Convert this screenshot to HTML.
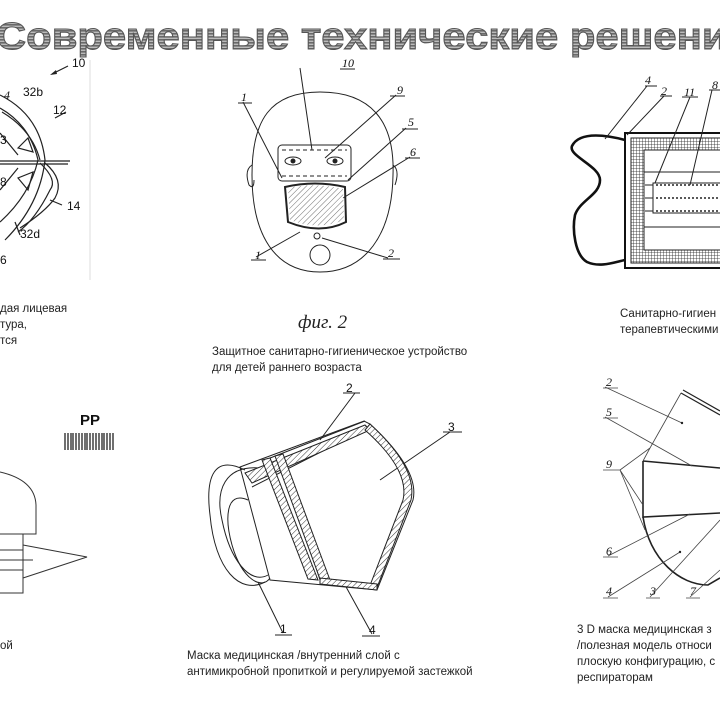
<!DOCTYPE html>
<html><head><meta charset="utf-8"><style>
html,body{margin:0;padding:0;background:#fff;}
svg{display:block}
.t{font-family:"Liberation Sans",sans-serif;font-size:11.5px;fill:#222}
.n{font-family:"Liberation Sans",sans-serif;font-size:12px;fill:#111}
.h{font-family:"Liberation Serif",serif;font-style:italic;font-size:12px;fill:#111}
</style></head><body>
<svg width="720" height="720" viewBox="0 0 720 720" xmlns="http://www.w3.org/2000/svg">
<defs>
<pattern id="grid" width="3" height="3" patternUnits="userSpaceOnUse"><rect width="3" height="3" fill="#fff"/><path d="M0 0H3M0 0V3" stroke="#222" stroke-width="0.8"/></pattern>
<pattern id="hatch" width="4" height="4" patternUnits="userSpaceOnUse" patternTransform="rotate(45)"><rect width="4" height="4" fill="#fff"/><path d="M0 0V4" stroke="#333" stroke-width="1"/></pattern>
<pattern id="stripes" width="4" height="3" patternUnits="userSpaceOnUse"><rect width="4" height="3" fill="#bbb"/><rect width="4" height="1.6" fill="#6a6a6a"/></pattern>
</defs>
<!-- title -->
<text x="-4" y="49" font-family="Liberation Sans,sans-serif" font-weight="bold" font-size="38" fill="url(#stripes)" stroke="#555" stroke-width="1" textLength="756" lengthAdjust="spacingAndGlyphs">Современные технические решения</text>

<!-- fig1 top-left -->
<line x1="90" y1="60" x2="90" y2="280" stroke="#ddd"/>
<g fill="none" stroke="#222" stroke-width="1.2">
<path d="M0 95 Q40 115 45 160 Q40 205 5 240"/>
<path d="M0 108 Q30 125 38 160 Q30 195 0 222"/>
<path d="M2 112 Q32 130 40 160"/>
<path d="M40 163 Q58 180 50 190 Q35 220 18 232"/>
<path d="M45 163 Q65 180 55 198 Q45 212 20 228"/>
<line x1="0" y1="161" x2="70" y2="161"/><line x1="0" y1="164" x2="68" y2="164"/>
<path d="M18 148 L28 138 L33 152 Z M18 178 L28 190 L33 172 Z"/>
<path d="M0 133 L18 155 M0 190 L18 168"/>
<path d="M52 74 L68 66 M55 118 L66 112 M50 200 L62 205 M15 222 L20 235"/>
</g>
<path d="M50 75 l6 -5 l1 4z" fill="#222"/>
<text class="n" x="72" y="67">10</text><text class="h" x="4" y="99" font-size="14">4</text>
<text class="n" x="23" y="96">32b</text><text class="n" x="53" y="114">12</text>
<text class="n" x="0" y="144">3</text><text class="n" x="0" y="186">8</text>
<text class="n" x="67" y="210">14</text><text class="n" x="20" y="238">32d</text>
<text class="n" x="0" y="264">6</text>
<text class="t" x="0" y="312">дая лицевая</text><text class="t" x="0" y="328">тура,</text><text class="t" x="0" y="344">тся</text>

<!-- fig2 face -->
<g fill="none" stroke="#222" stroke-width="1">
<path d="M320 92 C370 92 395 120 393 175 C392 235 365 272 320 272 C275 272 252 235 252 175 C252 120 270 92 320 92Z"/>
<path d="M252 165 q-8 5 -3 20 q5 5 5 -5 M393 165 q7 5 2 20"/>
<rect x="278" y="145" width="73" height="36" rx="4"/>
<path d="M282 150 H347 M282 176 H347" stroke-dasharray="4 3"/>
<path d="M285 187 Q315 180 345 187 L346 222 Q320 235 288 222 Z" stroke-width="2"/>
<circle cx="320" cy="255" r="10"/><circle cx="317" cy="236" r="3"/>
<path d="M300 68 L312 150 M396 95 L325 158 M406 128 L348 180 M410 157 L343 198 M243 102 L282 178 M388 258 L322 238 M256 257 L300 232"/>
<path d="M340 69 H355 M390 96 H405 M402 129 H418 M405 158 H420 M238 103 H252 M383 259 H400 M251 260 H266"/>
</g>
<path d="M288 188 Q315 182 343 189 L344 220 Q318 231 290 220 Z" fill="url(#hatch)" opacity="0.7"/>
<ellipse cx="293" cy="161" rx="8" ry="4" fill="none" stroke="#222"/><circle cx="293" cy="161" r="2.5" fill="#222"/>
<ellipse cx="335" cy="161" rx="8" ry="4" fill="none" stroke="#222"/><circle cx="335" cy="161" r="2.5" fill="#222"/>
<text class="h" x="342" y="67">10</text><text class="h" x="397" y="94">9</text><text class="h" x="408" y="126">5</text>
<text class="h" x="410" y="156">6</text><text class="h" x="241" y="101">1</text><text class="h" x="388" y="257">2</text><text class="h" x="255" y="259">1</text>
<text x="298" y="328" font-family="Liberation Serif,serif" font-style="italic" font-size="19" fill="#222">фиг. 2</text>
<text class="t" x="212" y="355">Защитное санитарно-гигиеническое устройство</text>
<text class="t" x="212" y="371">для детей  раннего возраста</text>

<!-- fig3 top right -->
<path d="M625 140 C610 136 580 130 572 146 C568 156 600 166 600 180 C600 195 580 200 575 215 C572 230 575 255 587 262 C600 268 615 262 625 260" fill="none" stroke="#111" stroke-width="2.6"/>
<rect x="625" y="133" width="100" height="135" fill="none" stroke="#111" stroke-width="2"/>
<rect x="631" y="138" width="95" height="125" fill="url(#grid)" stroke="#222"/>
<rect x="644" y="150" width="80" height="100" fill="#fff" stroke="#222"/>
<rect x="653" y="183" width="70" height="30" fill="#fff" stroke="#222"/>
<g stroke="#222" stroke-dasharray="2 2" stroke-width="1.6"><line x1="656" y1="185" x2="720" y2="185"/><line x1="656" y1="198" x2="720" y2="198"/><line x1="656" y1="211" x2="720" y2="211"/></g>
<g stroke="#222" fill="none"><line x1="644" y1="172" x2="720" y2="172"/><line x1="644" y1="227" x2="720" y2="227"/>
<path d="M605 139 L647 86 M627 135 L664 96 M655 183 L690 97 M690 185 L712 90 M645 185H653M645 198H653M645 211H653"/>
<path d="M645 86H657M660 96H672M682 97H698M709 90H720"/></g>
<text class="h" x="645" y="84">4</text><text class="h" x="661" y="95">2</text><text class="h" x="684" y="96">11</text><text class="h" x="712" y="89">8</text>
<text class="t" x="620" y="317">Санитарно-гигиен</text><text class="t" x="620" y="333">терапевтическими</text>

<!-- bottom-left -->
<text x="80" y="425" font-family="Liberation Sans,sans-serif" font-weight="bold" font-size="15" fill="#111">PP</text>
<g stroke="#222" stroke-width="1.3"><path d="M65 433V450M68 433V450M71 433V450M73 433V450M76 433V450M79 433V450M82 433V450M85 433V450M87 433V450M90 433V450M93 433V450M96 433V450M99 433V450M102 433V450M104 433V450M107 433V450M110 433V450M113 433V450"/></g>
<g fill="none" stroke="#333">
<path d="M0 472 Q35 480 36 505 V534 H0"/>
<path d="M23 534 V593 H0"/><path d="M23 545 L87 557 L23 578"/>
<path d="M0 550H23 M0 560H33 M0 570H23"/></g>
<text class="t" x="0" y="649">ой</text>

<!-- middle bottom mask -->
<g fill="none" stroke="#222">
<path d="M245 470 C215 455 205 475 210 515 C215 570 240 595 265 582"/>
<path d="M248 500 C225 490 225 520 232 545 C242 580 262 590 270 578"/>
<path d="M260 468 C225 465 215 490 222 520 C230 560 250 585 268 575"/>
<path d="M240 467 L364 421 L370 424 Q420 470 413 500 L377 590 L270 580 Z"/>
<path d="M265 460 L365 421 M252 487 L368 428"/>
<path d="M270 458 L310 578 M280 454 L320 580"/>
<path d="M355 393 L320 440 M450 432 L380 480 M283 633 L258 582 M372 634 L345 585"/>
<path d="M343 393H360M443 432H462M275 635H292M362 636H380"/></g>
<path d="M245 473 L365 425 L370 430 L252 483 Z" fill="url(#hatch)" stroke="#222"/>
<path d="M370 424 Q418 468 411 500 L376 590 L369 588 L403 500 Q410 470 365 430Z" fill="url(#hatch)" stroke="#222"/>
<path d="M262 460 L270 458 L318 580 L308 579 Z" fill="url(#hatch)" stroke="#222"/>
<path d="M275 456 L283 454 L330 580 L320 579Z" fill="url(#hatch)" stroke="#222"/>
<path d="M320 578 L377 584 L377 590 L320 584Z" fill="url(#hatch)" stroke="#222"/>
<text class="n" x="346" y="392">2</text><text class="n" x="448" y="431">3</text><text class="n" x="280" y="633">1</text><text class="n" x="369" y="634">4</text>
<text class="t" x="187" y="659">Маска медицинская /внутренний слой с</text>
<text class="t" x="187" y="675">антимикробной пропиткой и регулируемой застежкой</text>

<!-- bottom right -->
<g fill="none" stroke="#222" stroke-width="1.6">
<path d="M681 393 L720 415 M683 390 L720 411" stroke-width="1.2"/>
<path d="M643 461 L720 468 M643 461 V517 L720 513"/>
<path d="M643 517 C650 560 680 585 708 585 L720 578"/></g>
<g fill="none" stroke="#444" stroke-width="0.8">
<path d="M681 393 L650 448 L643 461"/>
<path d="M605 387 L682 423 M605 417 L692 466 M620 470 L650 448 M620 470 L643 505 M620 470 L645 530 M608 556 L690 514 M608 597 L680 552 M650 597 L720 520 M690 597 L720 570"/>
<path d="M603 388H618M603 418H618M603 470H620M603 557H618M603 598H618M646 598H660M686 598H700"/></g>
<circle cx="682" cy="423" r="1.2" fill="#222"/><circle cx="680" cy="552" r="1.2" fill="#222"/>
<text class="h" x="606" y="386" font-size="13">2</text><text class="h" x="606" y="416" font-size="13">5</text>
<text class="h" x="606" y="468" font-size="13">9</text><text class="h" x="606" y="555" font-size="13">6</text>
<text class="h" x="606" y="595" font-size="13">4</text><text class="h" x="650" y="595" font-size="13">3</text><text class="h" x="690" y="595" font-size="13">7</text>
<text class="t" x="577" y="633">3 D маска медицинская з</text>
<text class="t" x="577" y="649">/полезная модель относи</text>
<text class="t" x="577" y="665">плоскую конфигурацию, с</text>
<text class="t" x="577" y="681">респираторам</text>
</svg>
</body></html>
